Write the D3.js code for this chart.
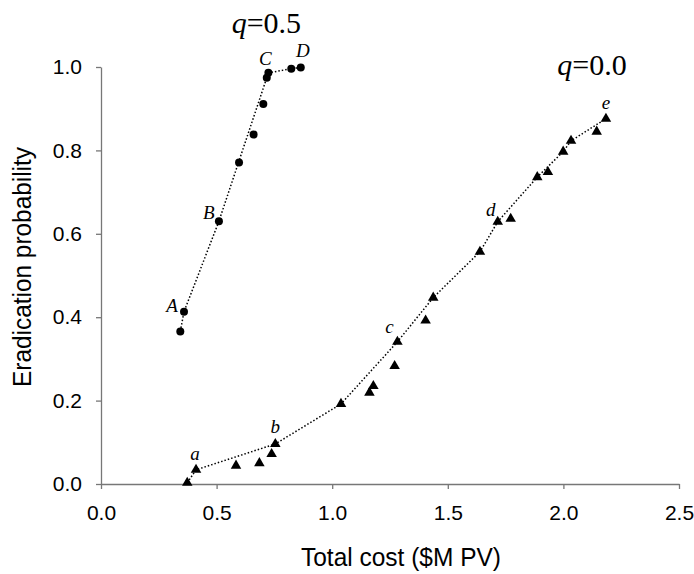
<!DOCTYPE html>
<html>
<head>
<meta charset="utf-8">
<script src="https://cdn.jsdelivr.net/npm/d3@7"></script>
<style>
  body { margin: 0; background: #fff; }
  svg { display: block; }
</style>
</head>
<body>
<svg id="chart"></svg>
<script>
// q = 0.5 runs (circles)
const q05Cost = [0.343, 0.359, 0.510, 0.597, 0.660, 0.702, 0.717, 0.724, 0.823, 0.864];
const q05Prob = [0.366, 0.413, 0.630, 0.771, 0.838, 0.911, 0.974, 0.986, 0.996, 0.999];
const q05Frontier = [0, 1, 2, 7, 8, 9];
const q05Labels = [['A', 1], ['B', 2], ['C', 7], ['D', 9]];

// q = 0.0 runs (triangles)
const q00Cost = [0.373, 0.411, 0.584, 0.685, 0.738, 0.754, 1.038, 1.161, 1.178, 1.270, 1.282,
                 1.404, 1.437, 1.639, 1.716, 1.772, 1.887, 1.933, 1.999, 2.033, 2.144, 2.184];
const q00Prob = [0.003, 0.034, 0.044, 0.050, 0.072, 0.096, 0.192, 0.219, 0.235, 0.283, 0.341,
                 0.392, 0.447, 0.557, 0.629, 0.636, 0.736, 0.748, 0.797, 0.823, 0.845, 0.876];
const q00Frontier = [0, 1, 5, 6, 10, 12, 13, 14, 16, 18, 19, 21];
const q00Labels = [['a', 1], ['b', 5], ['c', 10], ['d', 14], ['e', 21]];

const xTicks = [0, 0.5, 1.0, 1.5, 2.0, 2.5];
const yTicks = [0, 0.2, 0.4, 0.6, 0.8, 1.0];

const width = 694, height = 574;
const x = d3.scaleLinear().domain([0, 2.5]).range([101, 679]);
const y = d3.scaleLinear().domain([0, 1]).range([484, 67]);

// label nudges in px (dx, dy from the point)
const labelOffset = {
  A: [-12, 0], B: [-10, -2], C: [-3, -8], D: [2, -10],
  a: [-1, -10], b: [0, -11], c: [-8, -9], d: [-7, -6], e: [0, -10]
};

const svg = d3.select('#chart').attr('width', width).attr('height', height);

// axes
const xAxis = svg.append('g')
  .attr('transform', `translate(0,${y(0)})`)
  .call(d3.axisBottom(x).tickValues(xTicks).tickFormat(d3.format('.1f'))
    .tickSize(5).tickSizeOuter(0).tickPadding(16));
const yAxis = svg.append('g')
  .attr('transform', `translate(${x(0)},0)`)
  .call(d3.axisLeft(y).tickValues(yTicks).tickFormat(d3.format('.1f'))
    .tickSize(5).tickSizeOuter(0).tickPadding(14));

[xAxis, yAxis].forEach(g => {
  g.select('.domain').attr('stroke', '#777').attr('stroke-width', 1.3);
  g.selectAll('.tick line').attr('stroke', '#777').attr('stroke-width', 1.3);
  g.selectAll('.tick text')
    .style('font-family', 'Arial, "Liberation Sans", sans-serif')
    .style('font-size', '21px')
    .attr('fill', '#000');
});

// axis titles
svg.append('text')
  .attr('x', 401).attr('y', 566)
  .attr('text-anchor', 'middle')
  .style('font-family', 'Arial, "Liberation Sans", sans-serif')
  .style('font-size', '26px')
  .attr('textLength', 200).attr('lengthAdjust', 'spacingAndGlyphs')
  .text('Total cost ($M PV)');

svg.append('text')
  .attr('transform', 'translate(31,267) rotate(-90)')
  .attr('text-anchor', 'middle')
  .style('font-family', 'Arial, "Liberation Sans", sans-serif')
  .style('font-size', '26px')
  .attr('textLength', 240).attr('lengthAdjust', 'spacingAndGlyphs')
  .text('Eradication probability');

// frontier lines
const line = d3.line().x(d => x(d[0])).y(d => y(d[1]));
function drawFrontier(cost, prob, idx) {
  svg.append('path')
    .datum(idx.map(i => [cost[i], prob[i]]))
    .attr('d', line)
    .attr('fill', 'none')
    .attr('stroke', '#000')
    .attr('stroke-width', 1.5)
    .attr('stroke-dasharray', '1.5,2');
}
drawFrontier(q05Cost, q05Prob, q05Frontier);
drawFrontier(q00Cost, q00Prob, q00Frontier);

// markers
svg.append('g').selectAll('circle')
  .data(d3.range(q05Cost.length))
  .join('circle')
  .attr('cx', i => x(q05Cost[i]))
  .attr('cy', i => y(q05Prob[i]))
  .attr('r', 4)
  .attr('fill', '#000');

const tri = d3.symbol().type(d3.symbolTriangle).size(48);
svg.append('g').selectAll('path')
  .data(d3.range(q00Cost.length))
  .join('path')
  .attr('transform', i => `translate(${x(q00Cost[i])},${y(q00Prob[i])})`)
  .attr('d', tri)
  .attr('fill', '#000');

// point letters
function drawLabels(labels, cost, prob) {
  svg.append('g').selectAll('text')
    .data(labels)
    .join('text')
    .attr('x', d => x(cost[d[1]]) + labelOffset[d[0]][0])
    .attr('y', d => y(prob[d[1]]) + labelOffset[d[0]][1])
    .attr('text-anchor', 'middle')
    .style('font-family', '"Times New Roman", "Liberation Serif", serif')
    .style('font-style', 'italic')
    .style('font-size', '19px')
    .text(d => d[0]);
}
drawLabels(q05Labels, q05Cost, q05Prob);
drawLabels(q00Labels, q00Cost, q00Prob);

// series titles
function seriesTitle(xv, yv, anchor, value) {
  const t = svg.append('text')
    .attr('x', x(xv)).attr('y', y(yv))
    .attr('text-anchor', anchor)
    .style('font-family', '"Times New Roman", "Liberation Serif", serif')
    .style('font-size', '30px');
  t.append('tspan').style('font-style', 'italic').text('q');
  t.append('tspan').text('=' + value);
}
seriesTitle(0.565, 1.082, 'start', '0.5');
seriesTitle(2.274, 0.981, 'end', '0.0');
</script>
</body>
</html>
